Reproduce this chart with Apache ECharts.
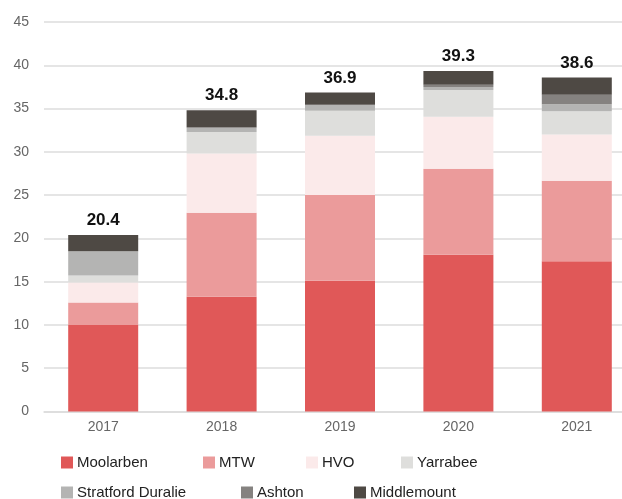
<!DOCTYPE html>
<html>
<head>
<meta charset="utf-8">
<script src="https://cdn.jsdelivr.net/npm/echarts@6/dist/echarts.min.js"></script>
<style>
html, body { margin: 0; padding: 0; background: #fff; }
#main { width: 622px; height: 499px; }
</style>
</head>
<body>
<div id="main"></div>
<script>
var years = ['2017', '2018', '2019', '2020', '2021'];
var moolarben = [10.0, 13.25, 15.1, 18.1, 17.35];
var mtw = [2.6, 9.7, 9.9, 9.95, 9.3];
var hvo = [2.3, 6.85, 6.85, 6.0, 5.35];
var yarrabee = [0.8, 2.5, 2.9, 3.1, 2.7];
var stratford = [2.8, 0.5, 0.7, 0.35, 0.8];
var ashton = [0, 0, 0, 0.25, 1.1];
var middlemount = [1.9, 2.0, 1.4, 1.6, 2.0];
var totals = ['20.4', '34.8', '36.9', '39.3', '38.6'];

var font = 'Helvetica, Arial, "Liberation Sans", sans-serif';

var seriesList = [
    { name: 'Moolarben', data: moolarben, color: '#e05858' },
    { name: 'MTW', data: mtw, color: '#eb9b9b' },
    { name: 'HVO', data: hvo, color: '#fbeaea' },
    { name: 'Yarrabee', data: yarrabee, color: '#dededc' },
    { name: 'Stratford Duralie', data: stratford, color: '#b4b4b3' },
    { name: 'Ashton', data: ashton, color: '#858280' },
    { name: 'Middlemount', data: middlemount, color: '#4e4944' }
];

// legend spots
var legendPos = [[61, 455], [203, 455], [306, 455], [401, 455], [61, 485], [241, 485], [354, 485]];

var myChart = echarts.init(document.getElementById('main'));

myChart.setOption({
    animation: false,
    textStyle: { fontFamily: font },
    color: seriesList.map(function (s) { return s.color; }),
    grid: {
        left: 44,
        right: -14,
        top: 22,
        bottom: 87.5,
        outerBoundsMode: 'none',
        containLabel: false
    },
    legend: seriesList.map(function (s, i) {
        return {
            data: [s.name],
            left: legendPos[i][0],
            top: legendPos[i][1],
            itemWidth: 12,
            itemHeight: 12,
            itemGap: 4,
            icon: 'rect',
            padding: 0,
            selectedMode: false,
            textStyle: { fontSize: 15, color: '#222', fontFamily: font, padding: [0, 0, 0, -1] }
        };
    }),
    xAxis: {
        type: 'category',
        data: years,
        axisTick: { show: false },
        axisLine: { lineStyle: { color: '#dcdcdc', width: 1.5 } },
        axisLabel: { color: '#666', fontSize: 14, margin: 9 }
    },
    yAxis: {
        type: 'value',
        min: 0,
        max: 45,
        interval: 5,
        axisLine: { show: false },
        axisTick: { show: false },
        axisLabel: { color: '#666', fontSize: 14, margin: 15 },
        splitLine: { lineStyle: { color: '#dcdcdc', width: 1.5 } }
    },
    series: seriesList.map(function (s, i) {
        var item = {
            name: s.name,
            type: 'bar',
            stack: 'total',
            barWidth: 70,
            data: s.data,
            itemStyle: { color: s.color }
        };
        if (i === seriesList.length - 1) {
            item.label = {
                show: true,
                position: 'top',
                distance: 6,
                color: '#111',
                fontSize: 17,
                fontWeight: 'bold',
                formatter: function (p) { return totals[p.dataIndex]; }
            };
        }
        return item;
    })
});
</script>
</body>
</html>
